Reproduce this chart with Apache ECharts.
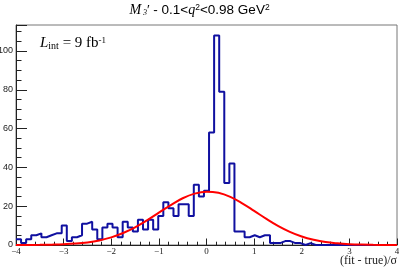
<!DOCTYPE html>
<html><head><meta charset="utf-8">
<script src="https://cdn.jsdelivr.net/npm/echarts@6/dist/echarts.min.js"></script>
<style>html,body{margin:0;padding:0;background:#fff}#c{width:399px;height:267px}</style>
</head><body><div id="c"></div>
<script>
// Histogram range and bin contents (75 equal bins from -4 to 4)
const xRange = [-4, 4];
const counts = [
  3, 1, 3, 5, 6, 4, 5, 6, 6, 10,
  2, 4, 5, 11, 12, 8, 3, 9, 11, 9,
  4, 12, 9, 7, 13, 8, 13, 8, 15, 22,
  19, 15, 21, 21, 15, 31, 25, 28, 58, 108,
  79, 32, 42, 7, 7, 4, 5, 4, 5, 5,
  1, 1, 2, 2, 1, 1, 0, 1, 0, 0,
  0, 0, 0, 0, 0, 0, 0, 0, 0, 0,
  0, 0, 0, 0, 0
];
// Gaussian fit curve
const fitX = [-4, -3.75, -3.5, -3.25, -3, -2.75, -2.5, -2.25, -2, -1.75, -1.5, -1.25, -1, -0.75, -0.5, -0.25,
  0, 0.25, 0.5, 0.75, 1, 1.25, 1.5, 1.75, 2, 2.25, 2.5, 2.75, 3, 3.25, 3.5, 3.75, 4];
const fitY = [0.01, 0.03, 0.08, 0.18, 0.36, 0.72, 1.34, 2.37, 3.95, 6.2, 9.1, 12.7, 16.7, 20.6, 24.1, 26.5,
  27.5, 26.9, 24.8, 21.5, 17.6, 13.6, 9.9, 6.8, 4.4, 2.7, 1.5, 0.84, 0.43, 0.2, 0.09, 0.04, 0.02];
const xTicks = [-4, -3, -2, -1, 0, 1, 2, 3, 4];
const yTicks = [0, 20, 40, 60, 80, 100];
const yMax = 113.4;

const binW = (xRange[1] - xRange[0]) / counts.length;
const histData = [];
counts.forEach((c, i) => {
  const x0 = xRange[0] + i * binW;
  histData.push([x0, c], [x0 + binW, c]);
});
const fitData = fitX.map((x, i) => [x, fitY[i]]);

const chart = echarts.init(document.getElementById('c'), null, {renderer: 'canvas'});
const serif = '"Liberation Serif", "DejaVu Serif", serif';
const sans = '"Liberation Sans", Arial, sans-serif';
chart.setOption({
  animation: false,
  backgroundColor: '#fff',
  grid: {left: 16, right: 2, top: 25, bottom: 22, show: true, borderColor: '#777', borderWidth: 1, outerBoundsMode: 'none'},
  xAxis: {
    type: 'value', min: xTicks[0], max: xTicks[xTicks.length - 1], interval: xTicks[1] - xTicks[0],
    axisLine: {show: true, onZero: false, lineStyle: {color: '#222', width: 1}},
    axisTick: {show: true, inside: true, length: 6.5, lineStyle: {color: '#222'}},
    minorTick: {show: true, splitNumber: 5, length: 3.3, lineStyle: {color: '#222'}},
    splitLine: {show: false},
    axisLabel: {fontFamily: serif, fontSize: 9, color: '#222', margin: 2,
      formatter: v => String(v).replace('-', '\u2212')}
  },
  yAxis: {
    type: 'value', min: yTicks[0], max: yMax, interval: yTicks[1] - yTicks[0],
    axisLine: {show: true, onZero: false, lineStyle: {color: '#222', width: 1}},
    axisTick: {show: true, inside: true, length: 11, lineStyle: {color: '#222'}},
    minorTick: {show: true, splitNumber: 4, length: 5.5, lineStyle: {color: '#222'}},
    splitLine: {show: false},
    axisLabel: {fontFamily: sans, fontSize: 9, color: '#222', margin: 3, showMaxLabel: false}
  },
  graphic: [
    {type: 'text', left: 'center', top: 3, style: {
      text: '{mi|M}{sub| 3}{n|\u2032 - 0.1<}{mi|q}{sup|2}{n|<0.98 GeV}{sup|2}',
      rich: {
        mi: {fontFamily: serif, fontStyle: 'italic', fontSize: 14, fill: '#000'},
        sub: {fontFamily: serif, fontStyle: 'italic', fontSize: 8, verticalAlign: 'bottom', fill: '#000'},
        n: {fontFamily: sans, fontSize: 13.5, fill: '#000'},
        sup: {fontFamily: sans, fontSize: 8.5, verticalAlign: 'top', fill: '#000'}
      }}},
    {type: 'text', left: 40, top: 36, style: {
      text: '{mi|L}{sub|int}{n| = 9 fb}{sup|-1}',
      rich: {
        mi: {fontFamily: serif, fontStyle: 'italic', fontSize: 15, fill: '#000'},
        sub: {fontFamily: serif, fontSize: 10, verticalAlign: 'bottom', fill: '#000'},
        n: {fontFamily: serif, fontSize: 15, fill: '#000'},
        sup: {fontFamily: serif, fontSize: 9, verticalAlign: 'top', fill: '#000'}
      }}},
    {type: 'text', right: 2, bottom: 0, style: {
      text: '(fit - true)/\u03c3', font: '12px ' + serif, fill: '#222'}}
  ],
  series: [
    {type: 'line', data: histData, symbol: 'none', lineStyle: {color: '#1010a0', width: 2}, z: 2},
    {type: 'line', data: fitData, symbol: 'none', smooth: 0.4, lineStyle: {color: '#ff0000', width: 2}, z: 3}
  ]
});
</script></body></html>
